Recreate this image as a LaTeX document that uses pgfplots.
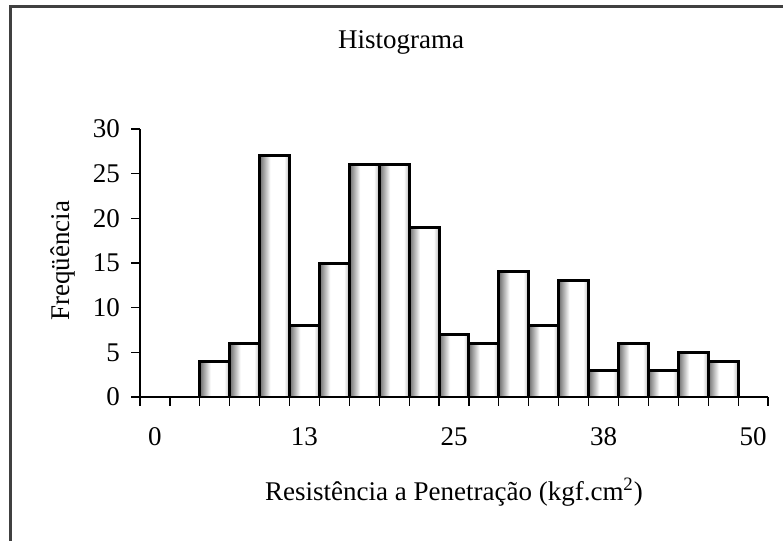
\documentclass[border=0pt]{standalone}
\usepackage{fontspec}
\setmainfont{Liberation Serif}
\usepackage{pgfplots}
\pgfplotsset{compat=1.18}

% cylinder-like fill of the Excel bars (25bp..75bp = bar edges)
\pgfdeclarehorizontalshading{barcyl}{100bp}{color(0bp)=(black!58); color(25bp)=(black!58); color(43bp)=(white); color(66bp)=(white); color(75bp)=(black!28); color(100bp)=(black!28)}

\newcommand{\chfont}{\fontsize{13.5bp}{16bp}\selectfont}

\begin{document}
\begin{tikzpicture}
\useasboundingbox (0,0) rectangle (391.5bp,270.5bp);
% chart area frame (top and left only visible)
\draw[line width=1.5bp, black!75] (5bp,0) -- (5bp,267.25bp) -- (391.5bp,267.25bp);

\begin{axis}[
  at={(70bp,72bp)}, anchor=south west,
  scale only axis, width=314bp, height=134bp,
  xmin=0, xmax=21, ymin=0, ymax=30,
  axis x line*=bottom, axis y line*=left,
  axis line style={line width=0.6bp, black, -},
  tick align=outside, major tick length=4.5bp,
  tick style={black, line width=0.6bp},
  xtick={0,...,21}, xticklabels={},
  extra x ticks={0.5,5.5,10.5,15.5,20.5},
  extra x tick labels={0,13,25,38,50},
  extra x tick style={major tick length=0pt},
  ytick={0,5,10,15,20,25,30},
  /pgf/number format/assume math mode=true,
  tick label style={font=\chfont},
  yticklabel style={xshift=-2bp},
  xticklabel style={yshift=-12bp},
  cyl/.style={ybar, bar width=1, bar shift=0pt, draw=black, line width=1.5bp, shade, shading=barcyl},
]
% one plot per bin so that each bar gets its own shading
\addplot[cyl] coordinates {(2.5,4)};
\addplot[cyl] coordinates {(3.5,6)};
\addplot[cyl] coordinates {(4.5,27)};
\addplot[cyl] coordinates {(5.5,8)};
\addplot[cyl] coordinates {(6.5,15)};
\addplot[cyl] coordinates {(7.5,26)};
\addplot[cyl] coordinates {(8.5,26)};
\addplot[cyl] coordinates {(9.5,19)};
\addplot[cyl] coordinates {(10.5,7)};
\addplot[cyl] coordinates {(11.5,6)};
\addplot[cyl] coordinates {(12.5,14)};
\addplot[cyl] coordinates {(13.5,8)};
\addplot[cyl] coordinates {(14.5,13)};
\addplot[cyl] coordinates {(15.5,3)};
\addplot[cyl] coordinates {(16.5,6)};
\addplot[cyl] coordinates {(17.5,3)};
\addplot[cyl] coordinates {(18.5,5)};
\addplot[cyl] coordinates {(19.5,4)};
\end{axis}

\node[font=\chfont] at (200.5bp,249.5bp) {Histograma};
\node[font=\chfont] at (227bp,24.5bp) {Resistência a Penetração (kgf.cm\textsuperscript{2})};
\node[font=\chfont, rotate=90] at (31.5bp,140bp) {Freqüência};
\end{tikzpicture}
\end{document}
